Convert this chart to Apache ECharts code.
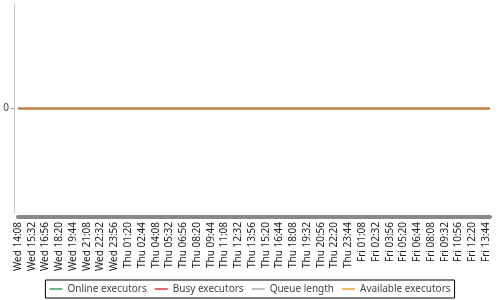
<!DOCTYPE html>
<html>
<head>
<meta charset="utf-8">
<script src="https://cdn.jsdelivr.net/npm/echarts@6/dist/echarts.min.js"></script>
<style>html,body{margin:0;padding:0;background:#fff}#c{width:500px;height:300px}</style>
</head>
<body>
<div id="c"></div>
<script>
// Minutes since start (Wed 14:08) of each sample, and the tick labels every 84 minutes
const sampleMinutes = [0,84,168,252,336,420,504,588,672,756,840,924,1008,1092,1176,1260,1344,1428,1512,1596,1680,1764,1848,1932,2016,2100,2184,2268,2352,2436,2520,2604,2688,2772,2856,2880];
const tickLabels = ["Wed 14:08","Wed 15:32","Wed 16:56","Wed 18:20","Wed 19:44","Wed 21:08","Wed 22:32","Wed 23:56","Thu 01:20","Thu 02:44","Thu 04:08","Thu 05:32","Thu 06:56","Thu 08:20","Thu 09:44","Thu 11:08","Thu 12:32","Thu 13:56","Thu 15:20","Thu 16:44","Thu 18:08","Thu 19:32","Thu 20:56","Thu 22:20","Thu 23:44","Fri 01:08","Fri 02:32","Fri 03:56","Fri 05:20","Fri 06:44","Fri 08:08","Fri 09:32","Fri 10:56","Fri 12:20","Fri 13:44"];
const onlineExecutors    = [0,0,0,0,0,0,0,0,0,0,0,0,0,0,0,0,0,0,0,0,0,0,0,0,0,0,0,0,0,0,0,0,0,0,0,0];
const busyExecutors      = [0,0,0,0,0,0,0,0,0,0,0,0,0,0,0,0,0,0,0,0,0,0,0,0,0,0,0,0,0,0,0,0,0,0,0,0];
const queueLength        = [0,0,0,0,0,0,0,0,0,0,0,0,0,0,0,0,0,0,0,0,0,0,0,0,0,0,0,0,0,0,0,0,0,0,0,0];
const availableExecutors = [0,0,0,0,0,0,0,0,0,0,0,0,0,0,0,0,0,0,0,0,0,0,0,0,0,0,0,0,0,0,0,0,0,0,0,0];
const seriesNames = ["Online executors","Busy executors","Queue length","Available executors"];
const seriesColors = ["#3d9d60","#e0303a","#aaaaaa","#f0a030"];
const seriesValues = [onlineExecutors, busyExecutors, queueLength, availableExecutors];

const FONT = "Noto Sans";
const chart = echarts.init(document.getElementById('c'), null, {renderer:'canvas'});
chart.setOption({
  animation:false,
  textStyle:{fontFamily:FONT},
  grid:{left:18, right:10, top:4, bottom:87, containLabel:false},
  legend:{
    bottom:2, left:'center',
    data:seriesNames,
    borderColor:'#000', borderWidth:1, borderRadius:0,
    padding:[4,4,4,4],
    itemWidth:13, itemHeight:1.5, itemGap:8,
    icon:'rect',
    textStyle:{fontFamily:FONT, fontSize:10, color:'#444'}
  },
  xAxis:{
    type:'value', min:0, max:2880, interval:84,
    offset:4,
    axisLine:{show:true, onZero:false, lineStyle:{color:'#888', width:4}},
    axisTick:{show:false},
    splitLine:{show:false},
    axisLabel:{
      rotate:90, fontSize:10, color:'#222', fontFamily:FONT, margin:5,
      showMaxLabel:false,
      formatter:(v)=>{ const i = Math.round(v/84); return (v % 84 === 0 && i < tickLabels.length) ? tickLabels[i] : ''; }
    }
  },
  yAxis:{
    type:'value', min:-1, max:1,
    offset:4,
    axisLine:{show:true, onZero:false, lineStyle:{color:'#c8c8c8', width:1}},
    axisTick:{show:true, length:3, customValues:[0], lineStyle:{color:'#999'}},
    splitLine:{show:false},
    axisLabel:{customValues:[0], fontSize:10, color:'#444', fontFamily:FONT, margin:5}
  },
  series: seriesNames.map((n,k)=>({
    name:n, type:'line', showSymbol:false, symbol:'none',
    data: sampleMinutes.map((m,i)=>[m, seriesValues[k][i]]),
    itemStyle:{color:seriesColors[k]},
    lineStyle:{color: k===3 ? '#c8781e' : seriesColors[k], width:1.5}
  }))
});
</script>
</body>
</html>
